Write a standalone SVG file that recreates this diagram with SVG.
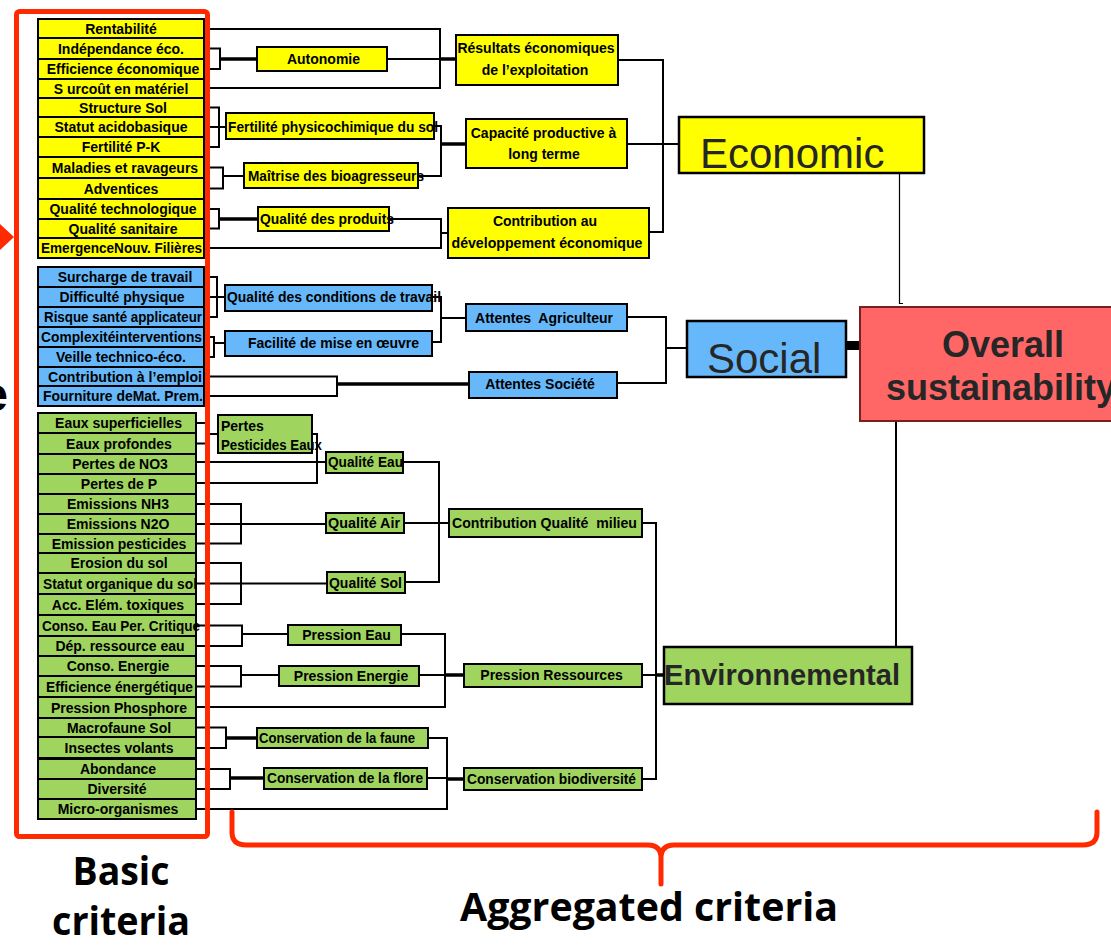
<svg xmlns="http://www.w3.org/2000/svg" width="1111" height="945" viewBox="0 0 1111 945">
<style>
  .y{fill:#FFFF00;stroke:#000;stroke-width:2}
  .b{fill:#66B8FA;stroke:#000;stroke-width:2}
  .g{fill:#9FD55F;stroke:#000;stroke-width:2}
  .t{font-family:"Liberation Sans",Arial,sans-serif;font-weight:bold;font-size:14px;fill:#000;text-anchor:middle}
  .s{text-anchor:start}
  .c{fill:none;stroke:#000;stroke-width:2}
  .k{fill:none;stroke:#000;stroke-width:3.5}
  .big{font-family:"Liberation Sans",Arial,sans-serif;fill:#262626}
  .red{fill:none;stroke:#FF2A00;stroke-width:5;stroke-linecap:round;stroke-linejoin:round}
  .lab{font-family:"Open Sans","Liberation Sans",sans-serif;font-weight:bold;fill:#000;text-anchor:middle}
</style>
<rect width="1111" height="945" fill="#fff"/>

<!-- connectors -->
<g id="connectors">
  <!-- economic branch -->
  <path class="c" d="M204,29 H440 V88 H204"/>
  <path class="c" d="M387,59 H440"/>
  <path class="k" d="M440,59 H456"/>
  <path class="c" d="M204,48.5 H220 V69 H204"/>
  <path class="k" d="M220,59 H257"/>
  <path class="c" d="M204,107.5 H219 V147 H204 M204,127 H226"/>
  <path class="c" d="M204,167.5 H223 V188.5 H204 M223,176 H244"/>
  <path class="c" d="M434,126 H441 V176 H418"/>
  <path class="k" d="M441,144 H466"/>
  <path class="c" d="M204,209 H219 V228.5 H204"/>
  <path class="k" d="M219,219 H258"/>
  <path class="c" d="M389,219 H441 V248 H204 M441,233 H448"/>
  <path class="c" d="M618,60 H663 V232 H649 M627,144 H679"/>
  <path fill="none" stroke="#000" stroke-width="1.2" d="M899.5,173 V303.5 H903"/>

  <!-- social branch -->
  <path class="c" d="M204,277 H217 V317 H204 M204,297 H225"/>
  <path class="c" d="M204,337 H214 V357 H204 M214,343 H225"/>
  <path class="c" d="M432,297 H441 V342 H432 M441,318 H466"/>
  <path class="c" d="M204,376.5 H337 V396 H204"/>
  <path class="k" d="M337,384 H469"/>
  <path class="c" d="M627,317 H666 V383 H617 M666,348 H687"/>
  <rect x="846" y="341" width="14" height="9" fill="#000"/>

  <!-- environmental branch -->
  <path class="c" d="M196,423 H206 V443.5 H196 M206,434 H218"/>
  <path class="c" d="M312,434 H317 V483 H196 M196,462 H326"/>
  <path class="c" d="M196,504 H241 V543.5 H196 M196,524 H326"/>
  <path class="c" d="M196,563 H241 V604 H196 M196,583.5 H327"/>
  <path class="c" d="M403,462 H439 V582 H405 M404,523 H449"/>
  <path class="c" d="M642,523 H656 V779 H642 M642,675 H656"/>
  <path class="k" d="M656,675 H664"/>
  <path class="c" d="M196,625.5 H242 V646 H196 M242,634 H288"/>
  <path class="c" d="M196,666 H241 V686.5 H196 M241,675 H279"/>
  <path class="c" d="M196,707 H445 V634 H401 M419,675 H445"/>
  <path class="k" d="M445,675 H464"/>
  <path class="c" d="M196,727.5 H226 V748 H196"/>
  <path class="k" d="M226,738 H257"/>
  <path class="c" d="M196,769 H230 V789 H196"/>
  <path class="k" d="M230,778 H264"/>
  <path class="c" d="M196,809 H447 V738 H428 M427,778 H447"/>
  <path class="k" d="M447,779 H464"/>
  <path class="c" d="M896,421 V647"/>
</g>

<!-- basic criteria: economic -->
<g id="rentabilite"><rect class="y" x="38" y="19" width="166" height="19"/><text class="t" x="121" y="34">Rentabilité</text></g>
<g id="independance"><rect class="y" x="38" y="38" width="166" height="21"/><text class="t" x="121" y="54">Indépendance éco.</text></g>
<g id="efficience-eco"><rect class="y" x="38" y="59" width="166" height="20"/><text class="t" x="123" y="74">Efficience économique</text></g>
<g id="surcout"><rect class="y" x="38" y="79" width="166" height="19"/><text class="t" x="121" y="94">S urcoût en matériel</text></g>
<g id="structure-sol"><rect class="y" x="38" y="98" width="166" height="19"/><text class="t" x="123" y="113">Structure Sol</text></g>
<g id="statut-acido"><rect class="y" x="38" y="117" width="166" height="20"/><text class="t" x="121" y="132">Statut acidobasique</text></g>
<g id="fertilite-pk"><rect class="y" x="38" y="137" width="166" height="20"/><text class="t" x="121" y="152">Fertilité P-K</text></g>
<g id="maladies"><rect class="y" x="38" y="157" width="166" height="21"/><text class="t" x="125" y="173">Maladies et ravageurs</text></g>
<g id="adventices"><rect class="y" x="38" y="178" width="166" height="21"/><text class="t" x="121" y="194">Adventices</text></g>
<g id="qualite-techno"><rect class="y" x="38" y="199" width="166" height="20"/><text class="t" x="123" y="214">Qualité technologique</text></g>
<g id="qualite-sanitaire"><rect class="y" x="38" y="219" width="166" height="19"/><text class="t" x="123" y="234">Qualité sanitaire</text></g>
<g id="emergence"><rect class="y" x="38" y="238" width="166" height="20"/><text class="t" x="121.5" y="253" textLength="161" lengthAdjust="spacingAndGlyphs">EmergenceNouv. Filières</text></g>

<!-- basic criteria: social -->
<g id="surcharge"><rect class="b" x="38" y="267" width="166" height="20"/><text class="t" x="125" y="282">Surcharge de travail</text></g>
<g id="difficulte"><rect class="b" x="38" y="287" width="166" height="20"/><text class="t" x="122" y="302">Difficulté physique</text></g>
<g id="risque"><rect class="b" x="38" y="307" width="166" height="20"/><text class="t" x="123" y="322" textLength="158" lengthAdjust="spacingAndGlyphs">Risque santé applicateur</text></g>
<g id="complexite"><rect class="b" x="38" y="327" width="166" height="20"/><text class="t" x="121.5" y="342" textLength="161" lengthAdjust="spacingAndGlyphs">Complexitéinterventions</text></g>
<g id="veille"><rect class="b" x="38" y="347" width="166" height="20"/><text class="t" x="121" y="362">Veille technico-éco.</text></g>
<g id="contribution-emploi"><rect class="b" x="38" y="367" width="166" height="19"/><text class="t" x="125" y="382" textLength="154" lengthAdjust="spacingAndGlyphs">Contribution à l’emploi</text></g>
<g id="fourniture"><rect class="b" x="38" y="386" width="166" height="20"/><text class="t" x="123" y="401" textLength="160" lengthAdjust="spacingAndGlyphs">Fourniture deMat. Prem.</text></g>

<!-- basic criteria: environmental -->
<g id="eaux-sup"><rect class="g" x="38" y="413" width="158" height="20"/><text class="t" x="118.5" y="428">Eaux superficielles</text></g>
<g id="eaux-prof"><rect class="g" x="38" y="433" width="158" height="21"/><text class="t" x="119" y="449">Eaux profondes</text></g>
<g id="pertes-no3"><rect class="g" x="38" y="454" width="158" height="20"/><text class="t" x="120" y="469">Pertes de NO3</text></g>
<g id="pertes-p"><rect class="g" x="38" y="474" width="158" height="20"/><text class="t" x="119" y="489">Pertes de P</text></g>
<g id="emissions-nh3"><rect class="g" x="38" y="494" width="158" height="20"/><text class="t" x="118" y="509">Emissions NH3</text></g>
<g id="emissions-n2o"><rect class="g" x="38" y="514" width="158" height="20"/><text class="t" x="118" y="529">Emissions N2O</text></g>
<g id="emission-pest"><rect class="g" x="38" y="534" width="158" height="19"/><text class="t" x="119" y="549">Emission pesticides</text></g>
<g id="erosion"><rect class="g" x="38" y="553" width="158" height="20"/><text class="t" x="119" y="568">Erosion du sol</text></g>
<g id="statut-org"><rect class="g" x="38" y="573" width="158" height="21"/><text class="t" x="120" y="589" textLength="154" lengthAdjust="spacingAndGlyphs">Statut organique du sol</text></g>
<g id="acc-elem"><rect class="g" x="38" y="594" width="158" height="21"/><text class="t" x="118" y="610">Acc. Elém. toxiques</text></g>
<g id="conso-eau"><rect class="g" x="38" y="615" width="158" height="21"/><text class="t" x="121" y="631" textLength="158" lengthAdjust="spacingAndGlyphs">Conso. Eau Per. Critique</text></g>
<g id="dep-ressource"><rect class="g" x="38" y="636" width="158" height="20"/><text class="t" x="120" y="651">Dép. ressource eau</text></g>
<g id="conso-energie"><rect class="g" x="38" y="656" width="158" height="20"/><text class="t" x="118" y="671">Conso. Energie</text></g>
<g id="efficience-energ"><rect class="g" x="38" y="676" width="158" height="21"/><text class="t" x="119.5" y="692" textLength="147" lengthAdjust="spacingAndGlyphs">Efficience énergétique</text></g>
<g id="pression-phos"><rect class="g" x="38" y="697" width="158" height="21"/><text class="t" x="119" y="713">Pression Phosphore</text></g>
<g id="macrofaune"><rect class="g" x="38" y="718" width="158" height="19"/><text class="t" x="119" y="733">Macrofaune Sol</text></g>
<g id="insectes"><rect class="g" x="38" y="737" width="158" height="21"/><text class="t" x="119" y="753">Insectes volants</text></g>
<g id="abondance"><rect class="g" x="38" y="759" width="158" height="20"/><text class="t" x="118" y="774">Abondance</text></g>
<g id="diversite"><rect class="g" x="38" y="779" width="158" height="20"/><text class="t" x="117" y="794">Diversité</text></g>
<g id="micro-org"><rect class="g" x="38" y="799" width="158" height="20"/><text class="t" x="118" y="814">Micro-organismes</text></g>

<!-- aggregated criteria: economic -->
<g id="autonomie"><rect class="y" x="257" y="47" width="130" height="24"/><text class="t" x="323.5" y="64">Autonomie</text></g>
<g id="resultats"><rect class="y" x="456" y="35" width="162" height="50"/><text class="t" x="536" y="53">Résultats économiques</text><text class="t" x="535" y="75">de l’exploitation</text></g>
<g id="fertilite-physico"><rect class="y" x="226" y="113" width="208" height="26"/><text class="t s" x="228" y="132" textLength="210" lengthAdjust="spacingAndGlyphs">Fertilité physicochimique du sol</text></g>
<g id="maitrise"><rect class="y" x="244" y="163" width="174" height="25"/><text class="t s" x="248" y="181" textLength="176" lengthAdjust="spacingAndGlyphs">Maîtrise des bioagresseurs</text></g>
<g id="capacite"><rect class="y" x="466" y="119" width="161" height="49"/><text class="t" x="543.5" y="138">Capacité productive à</text><text class="t" x="544" y="159">long terme</text></g>
<g id="qualite-produits"><rect class="y" x="258" y="207" width="131" height="24"/><text class="t s" x="260" y="224" textLength="134" lengthAdjust="spacingAndGlyphs">Qualité des produits</text></g>
<g id="contribution-dev"><rect class="y" x="448" y="208" width="201" height="50"/><text class="t" x="545" y="226">Contribution au</text><text class="t" x="547" y="248" textLength="191" lengthAdjust="spacingAndGlyphs">développement économique</text></g>
<g id="economic"><rect x="679" y="117" width="245" height="56" fill="#FFFF00" stroke="#000" stroke-width="2.5"/><text class="big" x="700" y="168" font-size="42">Economic</text></g>

<!-- aggregated criteria: social -->
<g id="qualite-conditions"><rect class="b" x="225" y="285" width="207" height="26"/><text class="t s" x="227" y="302" textLength="214" lengthAdjust="spacingAndGlyphs">Qualité des conditions de travail</text></g>
<g id="facilite"><rect class="b" x="225" y="331" width="207" height="25"/><text class="t" x="333.5" y="348">Facilité de mise en œuvre</text></g>
<g id="attentes-agri"><rect class="b" x="466" y="304" width="161" height="27"/><text class="t" x="544" y="323" xml:space="preserve">Attentes  Agriculteur</text></g>
<g id="attentes-societe"><rect class="b" x="469" y="372" width="148" height="26"/><text class="t" x="540" y="389">Attentes Société</text></g>
<g id="social"><rect x="687" y="321" width="159" height="56" fill="#66B8FA" stroke="#000" stroke-width="2.5"/><text class="big" x="707" y="373" font-size="42">Social</text></g>

<!-- aggregated criteria: environmental -->
<g id="pertes-pest-eaux"><rect class="g" x="218" y="415" width="94" height="38"/><text class="t s" x="221" y="431">Pertes</text><text class="t s" x="221" y="450" textLength="101" lengthAdjust="spacingAndGlyphs">Pesticides Eaux</text></g>
<g id="qualite-eau"><rect class="g" x="326" y="452" width="77" height="21"/><text class="t s" x="328" y="467" textLength="75" lengthAdjust="spacingAndGlyphs">Qualité Eau</text></g>
<g id="qualite-air"><rect class="g" x="326" y="513" width="78" height="20"/><text class="t s" x="328" y="528" textLength="72" lengthAdjust="spacingAndGlyphs">Qualité Air</text></g>
<g id="qualite-sol"><rect class="g" x="327" y="572" width="78" height="21"/><text class="t s" x="329" y="588" textLength="73" lengthAdjust="spacingAndGlyphs">Qualité Sol</text></g>
<g id="contribution-milieu"><rect class="g" x="449" y="509" width="193" height="28"/><text class="t s" x="452" y="528" textLength="185" lengthAdjust="spacingAndGlyphs" xml:space="preserve">Contribution Qualité  milieu</text></g>
<g id="pression-eau"><rect class="g" x="288" y="625" width="113" height="20"/><text class="t" x="346.5" y="640">Pression Eau</text></g>
<g id="pression-energie"><rect class="g" x="279" y="666" width="140" height="20"/><text class="t" x="351" y="681">Pression Energie</text></g>
<g id="pression-ressources"><rect class="g" x="464" y="664" width="178" height="23"/><text class="t" x="551.5" y="680">Pression Ressources</text></g>
<g id="conservation-faune"><rect class="g" x="257" y="728" width="171" height="20"/><text class="t s" x="259" y="743" textLength="156" lengthAdjust="spacingAndGlyphs">Conservation de la faune</text></g>
<g id="conservation-flore"><rect class="g" x="264" y="768" width="163" height="21"/><text class="t s" x="267" y="783" textLength="156" lengthAdjust="spacingAndGlyphs">Conservation de la flore</text></g>
<g id="conservation-biodiv"><rect class="g" x="464" y="768" width="178" height="22"/><text class="t s" x="467" y="784" textLength="169" lengthAdjust="spacingAndGlyphs">Conservation biodiversité</text></g>
<g id="environnemental"><rect x="664" y="647" width="248" height="57" fill="#9FD55F" stroke="#000" stroke-width="2.5"/><text class="big" x="664" y="685" font-size="29" font-weight="bold" textLength="236" lengthAdjust="spacingAndGlyphs">Environnemental</text></g>

<!-- overall -->
<g id="overall"><rect x="860" y="307" width="260" height="114" fill="#FF6666" stroke="#7A1F1F" stroke-width="2"/><text class="big" x="1003" y="357" font-size="36" font-weight="bold" text-anchor="middle">Overall</text><text class="big" x="1001" y="400" font-size="36" font-weight="bold" text-anchor="middle">sustainability</text></g>

<!-- annotations -->
<g id="basic-frame">
  <rect class="red" x="16.5" y="11.5" width="191" height="825" rx="3"/>
  <polygon points="0,224 14,237 0,250" fill="#FF2A00"/>
  <text x="8" y="411" font-family="'Liberation Sans',Arial,sans-serif" font-weight="bold" font-size="48" fill="#000" text-anchor="end">e</text>
</g>
<g id="aggregated-brace">
  <path class="red" d="M232,812 V832 Q232,845 246,845 H648 Q661,845 661,858 V884 M661,858 Q661,845 674,845 H1083 Q1097,845 1097,832 V812"/>
</g>
<g id="labels">
  <text class="lab" x="121" y="885" font-size="40" textLength="97" lengthAdjust="spacingAndGlyphs">Basic</text>
  <text class="lab" x="121" y="935" font-size="40" textLength="138" lengthAdjust="spacingAndGlyphs">criteria</text>
  <text class="lab" x="649" y="921" font-size="40" textLength="378" lengthAdjust="spacingAndGlyphs">Aggregated criteria</text>
</g>
</svg>
